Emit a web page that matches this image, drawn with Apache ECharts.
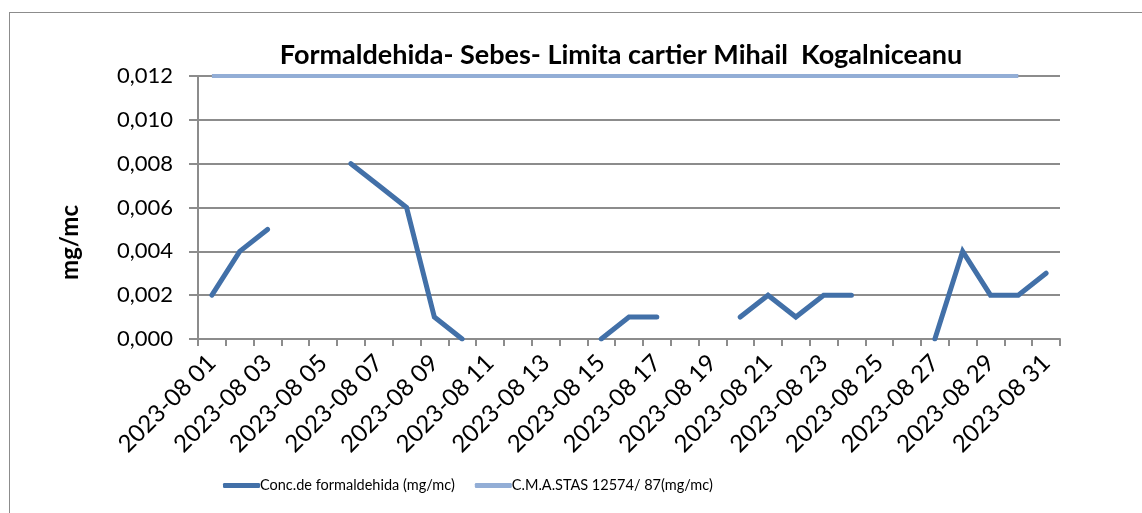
<!DOCTYPE html>
<html lang="ro">
<head>
    <meta charset="UTF-8" />
    <title>Formaldehida</title>
    <script src="https://cdn.jsdelivr.net/npm/echarts@6/dist/echarts.min.js"></script>
    <style>
        html, body { margin: 0; padding: 0; background: #fff; overflow: hidden; }
        #frame { position: absolute; left: 9px; top: 12px; width: 1200px; height: 600px; border: 1px solid #8c8c8c; box-sizing: border-box; }
        #main { position: absolute; left: 0; top: 0; width: 1142px; height: 513px; }
    </style>
</head>
<body>
    <div id="frame"></div>
    <div id="main"></div>
    <script>
        // date zilnice august 2023
        var zile = ['2023-08 01', '2023-08 02', '2023-08 03', '2023-08 04', '2023-08 05', '2023-08 06',
            '2023-08 07', '2023-08 08', '2023-08 09', '2023-08 10', '2023-08 11', '2023-08 12',
            '2023-08 13', '2023-08 14', '2023-08 15', '2023-08 16', '2023-08 17', '2023-08 18',
            '2023-08 19', '2023-08 20', '2023-08 21', '2023-08 22', '2023-08 23', '2023-08 24',
            '2023-08 25', '2023-08 26', '2023-08 27', '2023-08 28', '2023-08 29', '2023-08 30',
            '2023-08 31'];

        var concentratie = [0.002, 0.004, 0.005, null, null, 0.008, 0.007, 0.006, 0.001, 0.000,
            null, null, null, null, 0.000, 0.001, 0.001, null, null, 0.001,
            0.002, 0.001, 0.002, 0.002, null, null, 0.000, 0.004, 0.002, 0.002,
            0.003];

        var cma = [0.012, 0.012, 0.012, 0.012, 0.012, 0.012, 0.012, 0.012, 0.012, 0.012,
            0.012, 0.012, 0.012, 0.012, 0.012, 0.012, 0.012, 0.012, 0.012, 0.012,
            0.012, 0.012, 0.012, 0.012, 0.012, 0.012, 0.012, 0.012, 0.012, 0.012,
            null];

        var numeSerii = ['Conc.de formaldehida (mg/mc)', 'C.M.A.STAS 12574/ 87(mg/mc)'];

        var myChart = echarts.init(document.getElementById('main'));

        var option = {
            animation: false,
            textStyle: { fontFamily: 'Lato, "Noto Sans", sans-serif', color: '#000' },
            title: {
                text: 'Formaldehida- Sebes- Limita cartier Mihail  Kogalniceanu',
                left: 616,
                textAlign: 'center',
                top: 37,
                textStyle: { fontSize: 27, fontWeight: 'bold', color: '#000', fontFamily: 'Lato, sans-serif' }
            },
            // eticheta axei y, pozitionata ca in original
            graphic: [{
                type: 'text',
                left: 58,
                top: 205,
                rotation: Math.PI / 2,
                style: { text: 'mg/mc', font: 'bold 24px Lato, sans-serif', fill: '#000' }
            }],
            legend: {
                bottom: 15,
                left: 218,
                itemGap: 20,
                itemWidth: 37,
                itemHeight: 5,
                icon: 'roundRect',
                textStyle: { fontSize: 14.5, color: '#000', padding: [0, 0, 0, -5] },
                data: numeSerii
            },
            grid: { left: 198, right: 82, top: 76, bottom: 174 },
            xAxis: {
                type: 'category',
                data: zile,
                boundaryGap: true,
                axisLine: { lineStyle: { color: '#8c8c8c', width: 2 } },
                axisTick: { show: true, interval: 0, length: 7, lineStyle: { color: '#8c8c8c', width: 2 } },
                axisLabel: { interval: 1, rotate: 45, fontSize: 24, color: '#000', margin: 20 }
            },
            yAxis: {
                type: 'value',
                min: 0,
                max: 0.012,
                interval: 0.002,
                axisLine: { show: true, lineStyle: { color: '#8c8c8c', width: 2 } },
                axisTick: { show: true, length: 9, lineStyle: { color: '#8c8c8c', width: 2 } },
                axisLabel: {
                    fontSize: 22, color: '#000', margin: 25,
                    formatter: function (v) { return v.toFixed(3).replace('.', ','); }
                },
                splitLine: { lineStyle: { color: '#8c8c8c', width: 2 } }
            },
            series: [
                {
                    name: numeSerii[0],
                    type: 'line',
                    data: concentratie,
                    showSymbol: false,
                    symbol: 'none',
                    lineStyle: { color: '#4270a8', width: 5, cap: 'round', join: 'miter' },
                    itemStyle: { color: '#4270a8' },
                    connectNulls: false
                },
                {
                    name: numeSerii[1],
                    type: 'line',
                    data: cma,
                    showSymbol: false,
                    symbol: 'none',
                    lineStyle: { color: '#93aed6', width: 4 },
                    itemStyle: { color: '#93aed6' },
                    z: 1
                }
            ]
        };

        myChart.setOption(option);
    </script>
</body>
</html>
